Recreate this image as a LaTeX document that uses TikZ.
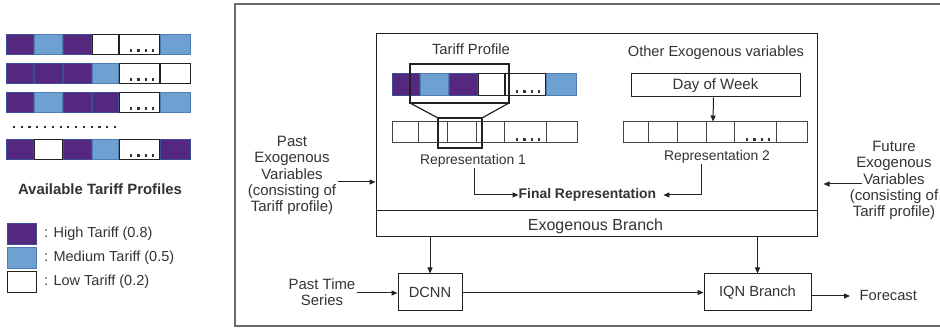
\documentclass[tikz,border=0pt]{standalone}
\usepackage{fontspec}
\setmainfont{Liberation Sans}
\usetikzlibrary{arrows.meta,calc}
\definecolor{hi}{HTML}{55287F}
\definecolor{hiB}{HTML}{3C4C96}
\definecolor{md}{HTML}{6FA0D2}
\definecolor{mdB}{HTML}{4F7DB3}
\definecolor{wh}{HTML}{FFFFFF}
\definecolor{whB}{HTML}{222222}
\definecolor{txt}{HTML}{333333}
\definecolor{ln}{HTML}{222222}
\definecolor{repc}{HTML}{444444}
\definecolor{outer}{HTML}{6A6A6A}
\newcommand\trow[9]{%
  \foreach \xa/\xb/\cf/\cd in {0/27.5/#4/#4B, 28.5/56/#5/#5B, 57/85/#6/#6B, 86/112/#7/#7B, 113/153/#8/#8B, 154/184.5/#9/#9B}{
    \draw[line width=0.9, draw=\cd, fill=\cf] (#1+\xa,#2) rectangle (#1+\xb,#3);
  }
  \foreach \i in {0,...,3}{
    \fill[txt] (#1+125+\i*7.4-1.2,#3-3.5-1.2) rectangle +(2.4,2.4);
  }
}
\newcommand\fs[1]{\fontsize{#1}{16.25}\selectfont}
\begin{document}
\begin{tikzpicture}[x=1pt,y=-1pt,
  every node/.style={font=\fs{14.7}, text=txt, inner sep=0.5pt},
  box/.style={draw=ln, line width=1, fill=white, inner sep=0},
  lbox/.style={line width=0.9, minimum width=29, minimum height=21, inner sep=0},
  arr/.style={draw=ln, line width=1, -{Triangle[length=6pt,width=5pt]}},
  plain/.style={draw=ln, line width=1}]
\useasboundingbox (0,0) rectangle (940,328);

% ---------- left panel ----------
\trow{6}{34}{54}{hi}{md}{hi}{wh}{wh}{md}
\trow{6}{63}{83}{hi}{hi}{hi}{md}{wh}{wh}
\trow{6}{92}{112}{hi}{md}{hi}{hi}{wh}{md}
\trow{6}{139}{159}{hi}{wh}{hi}{md}{wh}{hi}
\foreach \i in {0,...,13}{
  \fill[txt] (14+\i*7.77-1.1,127-1.1) rectangle +(2.2,2.2);
}
\node[font=\fs{14.9}\bfseries] (avail) at (100,189) {Available Tariff Profiles};

\node[lbox, draw=hiB, fill=hi] (lhi) at (21.5,233.5) {};
\node[lbox, draw=mdB, fill=md] (lmd) at (21.5,257.5) {};
\node[lbox, draw=whB, fill=wh] (lwh) at (21.5,281.5) {};
\node[anchor=west, font=\fs{14.5}] (thi) at (43.5,233.5) {: High Tariff (0.8)};
\node[anchor=west, font=\fs{14.5}] (tmd) at (43.5,257.5) {: Medium Tariff (0.5)};
\node[anchor=west, font=\fs{14.5}] (twh) at (43.5,281.5) {: Low Tariff (0.2)};

% ---------- outer frame ----------
\draw[outer, line width=1.3] (941,4) -- (235,4) -- (235,326) -- (941,326);

% ---------- exogenous branch ----------
\node[box, minimum width=441, minimum height=203] (exo) at (596.5,135.5) {};
\draw[plain] (376,211) -- (817,211);
\node[font=\fs{16}] (exolbl) at (595.5,226) {Exogenous Branch};

\node[font=\fs{14.8}] (tplbl) at (471,49) {Tariff Profile};
\trow{392}{73}{95}{hi}{md}{hi}{wh}{wh}{md}

\node[box, draw=repc, minimum width=185, minimum height=21] (rep1bar) at (484.5,132.5) {};
\foreach \xx in {418,447,476,504,546}{ \draw[repc, line width=1] (\xx,122) -- (\xx,143); }
\foreach \i in {0,...,3}{ \fill[txt] (517+\i*7.4-1.2,139.5-1.2) rectangle +(2.4,2.4); }

% zoom window
\draw[ln, line width=1.4] (410,64) rectangle (509,103);
\draw[ln, line width=1.2] (410,103) -- (438,118);
\draw[ln, line width=1.2] (509,103) -- (482,118);
\draw[ln, line width=1.2] (438,118) rectangle (482,148);

\node[font=\fs{13.9}] (rep1) at (473,161) {Representation 1};

\node[font=\fs{14.6}] (otherlbl) at (716,53) {Other Exogenous variables};
\node[box, minimum width=169, minimum height=23, font=\fs{15}] (dow) at (715.5,85.5) {Day of Week};
\node[box, draw=repc, minimum width=184, minimum height=21] (rep2bar) at (715,132.5) {};
\foreach \xx in {648,677,706,734,776}{ \draw[repc, line width=1] (\xx,122) -- (\xx,143); }
\foreach \i in {0,...,3}{ \fill[txt] (747+\i*7.4-1.2,139.5-1.2) rectangle +(2.4,2.4); }
\node[font=\fs{13.9}] (rep2) at (717,157) {Representation 2};

\draw[arr] ($(dow.south)+(-2,0)$) -- ($(rep2bar.north)+(-2,0)$);

\node[font=\fs{13.9}\bfseries, anchor=west, inner sep=0] (final) at (518.5,195) {Final Representation};
\draw[arr] ($(rep1.south)+(1,0)$) |- (final.west);
\draw[arr] ($(rep2.south)+(-16,0)$) |- ($(final.east)+(7,0)$);

% ---------- side inputs ----------
\node[align=center, font=\fs{15}] (pastexo) at (292,175.5) {Past\\Exogenous\\Variables\\(consisting of\\Tariff profile)};
\coordinate (pastexoout) at (338,182);
\draw[arr] (pastexoout) -- (pastexoout -| exo.west);

\node[align=center, font=\fs{15}] (futexo) at (894,180.5) {Future\\Exogenous\\Variables\\(consisting of\\Tariff profile)};
\coordinate (futexoout) at (862,184);
\draw[arr] (futexoout) -- ($(futexoout -| exo.east)+(6,0)$);

% ---------- bottom row ----------
\node[box, minimum width=64, minimum height=37] (dcnn) at (430,292.5) {DCNN};
\node[box, minimum width=107, minimum height=37] (iqn) at (757.5,292.5) {IQN Branch};
\node[align=center, font=\fs{14.9}] (pts) at (322,292) {Past Time\\Series};
\node[anchor=west] (fc) at (859,296) {Forecast};

\draw[arr] (exo.south -| dcnn.north) -- (dcnn.north);
\draw[arr] (exo.south -| iqn.north) -- (iqn.north);
\draw[arr] (357,293) -- (dcnn.west |- 0,293);
\draw[arr] (dcnn.east) -- (iqn.west);
\draw[arr] (iqn.east |- fc.west) -- ($(fc.west)+(-9,0)$);
\end{tikzpicture}
\end{document}
